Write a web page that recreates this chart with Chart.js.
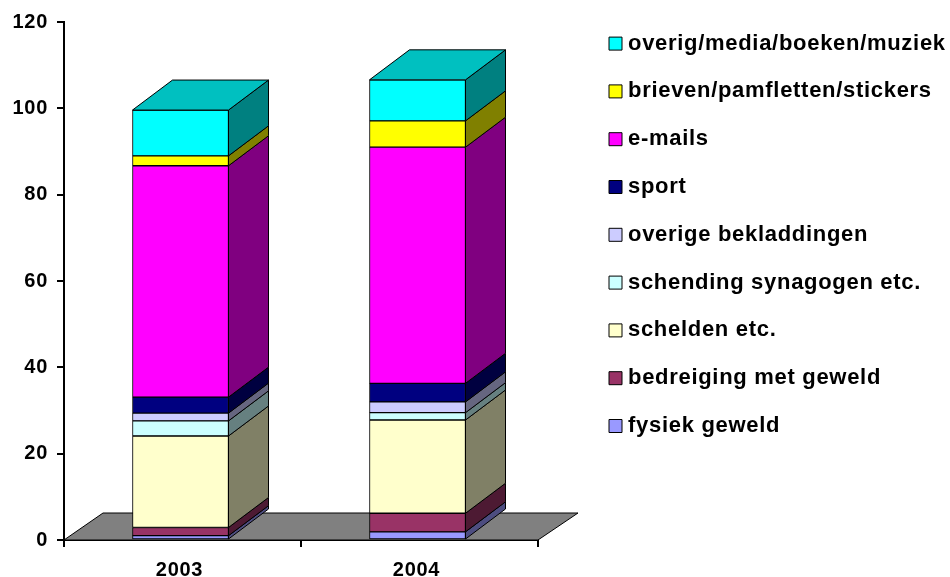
<!DOCTYPE html>
<html lang="nl">
<head>
  <meta charset="UTF-8" />
  <title>Incidenten 2003-2004</title>
  <script src="https://cdn.jsdelivr.net/npm/chart.js"></script>
  <style>
    html, body { margin: 0; background: #fff; }
    canvas { display: block; }
  </style>
</head>
<body>
  <canvas id="grafiek" width="950" height="577"></canvas>

  <script>
    const jaren = ["2003", "2004"];

    const fysiekGeweld = [1.0, 1.9];
    const bedreiging = [1.9, 4.3];
    const schelden = [21.2, 21.6];
    const schending = [3.5, 1.7];
    const bekladdingen = [1.8, 2.5];
    const sport = [3.7, 4.3];
    const emails = [53.6, 54.7];
    const brieven = [2.3, 6.1];
    const overig = [10.6, 9.5];

    const yTicks = [0, 20, 40, 60, 80, 100, 120];

    // van onder naar boven gestapeld
    const reeksen = [
      { naam: "fysiek geweld", waarden: fysiekGeweld, voor: "#9999ff", zij: "#4d4d80" },
      { naam: "bedreiging met geweld", waarden: bedreiging, voor: "#993366", zij: "#4d1a33" },
      { naam: "schelden etc.", waarden: schelden, voor: "#ffffcc", zij: "#808066" },
      { naam: "schending synagogen etc.", waarden: schending, voor: "#ccffff", zij: "#668080" },
      { naam: "overige bekladdingen", waarden: bekladdingen, voor: "#ccccff", zij: "#666680" },
      { naam: "sport", waarden: sport, voor: "#000080", zij: "#000040" },
      { naam: "e-mails", waarden: emails, voor: "#ff00ff", zij: "#800080" },
      { naam: "brieven/pamfletten/stickers", waarden: brieven, voor: "#ffff00", zij: "#808000" },
      { naam: "overig/media/boeken/muziek", waarden: overig, voor: "#00ffff", zij: "#008080" }
    ];
    const kleurBoven = "#00c0c0";
    const kleurVloer = "#808080";

    const dieptePx = { x: 40, y: 30 };
    const vloerPx = { x: 39, y: 27 };
    const barVerschuiving = -2; // balken staan iets links van het midden

    function vlak(ctx, punten, kleur) {
      ctx.beginPath();
      punten.forEach((p, i) => i ? ctx.lineTo(p[0], p[1]) : ctx.moveTo(p[0], p[1]));
      ctx.closePath();
      ctx.fillStyle = kleur;
      ctx.fill();
      ctx.strokeStyle = "#000";
      ctx.lineWidth = 1;
      ctx.stroke();
    }

    // vloer en zijkanten: Chart.js kent geen 3D balken
    const drieD = {
      id: "drieD",
      beforeDraw(chart) {
        chart.ctx.letterSpacing = "0.7px";
      },
      beforeDatasetsDraw(chart) {
        const ctx = chart.ctx;
        const x = chart.scales.x;
        const nul = chart.scales.y.getPixelForValue(0);
        vlak(ctx, [
          [x.left, nul],
          [x.left + vloerPx.x, nul - vloerPx.y],
          [x.right + vloerPx.x + 1, nul - vloerPx.y],
          [x.right, nul]
        ], kleurVloer);
        ctx.save();
        ctx.translate(barVerschuiving, 0);
      },
      afterDatasetsDraw(chart) {
        const ctx = chart.ctx;
        const dx = dieptePx.x, dy = dieptePx.y;
        reeksen.forEach((r, i) => {
          chart.getDatasetMeta(i).data.forEach(bar => {
            const rechts = bar.x + bar.width / 2;
            vlak(ctx, [
              [rechts, bar.base],
              [rechts + dx, bar.base - dy],
              [rechts + dx, bar.y - dy],
              [rechts, bar.y]
            ], r.zij);
            if (i === reeksen.length - 1) {
              const links = bar.x - bar.width / 2;
              vlak(ctx, [
                [links, bar.y],
                [links + dx, bar.y - dy],
                [rechts + dx, bar.y - dy],
                [rechts, bar.y]
              ], kleurBoven);
            }
          });
        });
        ctx.restore();
      },
      afterLayout(chart) {
        // legenda los van het plotvlak rechts zetten
        const l = chart.legend;
        l.left = 588.2;
        l.right = 950;
        l.top = 6.8;
        l.bottom = 577;
      }
    };

    new Chart(document.getElementById("grafiek"), {
      type: "bar",
      data: {
        labels: jaren,
        datasets: reeksen.map(r => ({
          label: r.naam,
          data: r.waarden,
          backgroundColor: r.voor,
          borderColor: "#000",
          borderWidth: 1,
          borderSkipped: false,
          barThickness: 96
        }))
      },
      options: {
        responsive: false,
        animation: false,
        layout: { padding: { top: 22, right: 412, left: 0, bottom: 0 } },
        scales: {
          x: {
            stacked: true,
            afterFit: s => { s.height = 37; },
            grid: { color: "#000", drawOnChartArea: false, tickLength: 7, lineWidth: 2 },
            border: { color: "#000", width: 2 },
            ticks: { color: "#000", padding: 11, labelOffset: -3, font: { family: "Liberation Sans", size: 20, weight: "bold" } }
          },
          y: {
            stacked: true,
            min: yTicks[0],
            max: yTicks[yTicks.length - 1],
            afterFit: s => { s.width = 64; },
            afterBuildTicks: s => { s.ticks = yTicks.map(v => ({ value: v })); },
            grid: { color: "#000", drawOnChartArea: false, tickLength: 7, lineWidth: 2 },
            border: { color: "#000", width: 2 },
            ticks: { color: "#000", padding: 9, font: { family: "Liberation Sans", size: 20, weight: "bold" } }
          }
        },
        plugins: {
          tooltip: { enabled: false },
          legend: {
            position: "chartArea",
            align: "start",
            reverse: true,
            labels: {
              color: "#000",
              font: { family: "Liberation Sans", size: 22, weight: "bold" },
              usePointStyle: true,
              pointStyle: "rect",
              boxWidth: 3,
              boxHeight: 13,
              padding: 25.8
            }
          }
        }
      },
      plugins: [drieD]
    });
  </script>
</body>
</html>
